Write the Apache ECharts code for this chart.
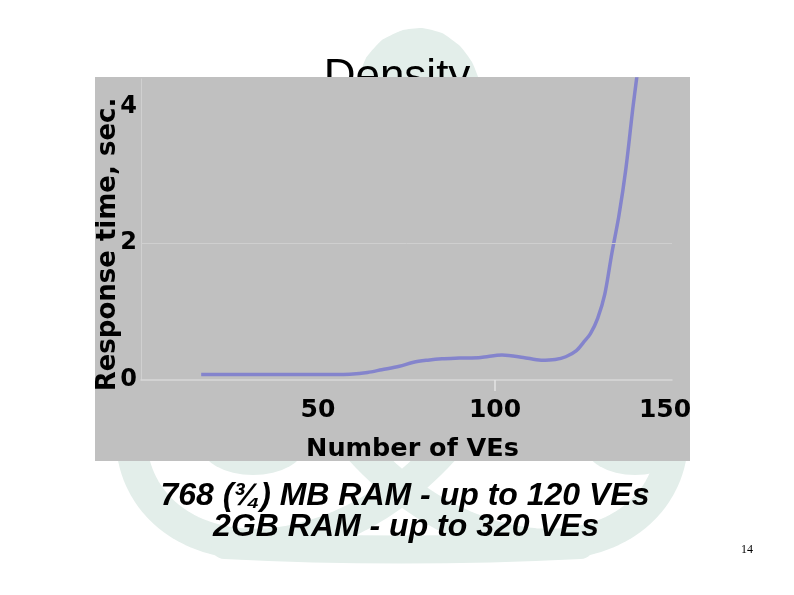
<!DOCTYPE html>
<html>
<head>
<meta charset="utf-8">
<style>
  html, body { margin: 0; padding: 0; background: #ffffff; }
  #chart { width: 794px; height: 595px; }
</style>
<script src="https://cdn.jsdelivr.net/npm/echarts@6/dist/echarts.min.js"></script>
</head>
<body>
<div id="chart"></div>
<script>
// ---- data ----
const veCounts = [17, 25, 35, 45, 55, 59, 64, 68, 73, 77, 81, 85, 90, 96, 102, 108, 113, 117, 120, 123, 125, 127, 129, 131, 133, 135, 137, 139, 141];
const responseTimes = [0.08, 0.08, 0.08, 0.08, 0.08, 0.085, 0.11, 0.15, 0.2, 0.26, 0.29, 0.31, 0.32, 0.33, 0.365, 0.33, 0.29, 0.3, 0.34, 0.43, 0.55, 0.68, 0.9, 1.25, 1.85, 2.4, 3.1, 4.0, 4.8];
const xTickLabels = [50, 100, 150];
const xTickMarks = [100];
const yTickLabels = [0, 2, 4];
const titleText = 'Density';
const xAxisTitle = 'Number of VEs';
const yAxisTitle = 'Response time, sec.';
const captionLines = ['768 (\u00BE) MB RAM - up to 120 VEs', '2GB RAM - up to 320 VEs'];
const pageNumber = '14';

// ---- decorative background logo (faint knot) ----
function trefoilPoints(cx, cy, s) {
  const pts = [];
  for (let i = 0; i <= 360; i++) {
    const t = i / 360 * Math.PI * 2;
    const x = Math.sin(t) + 2 * Math.sin(2 * t);
    const y = Math.cos(t) - 2 * Math.cos(2 * t);
    pts.push([cx + s * x, cy + s * y]);
  }
  return pts;
}
const logoColor = '#e3eeea';

const chart = echarts.init(document.getElementById('chart'), null, { renderer: 'canvas' });

const option = {
  backgroundColor: '#ffffff',
  animation: false,
  graphic: [
    {
      type: 'polyline', z: -30, silent: true,
      shape: { points: trefoilPoints(402, 340, 99) },
      style: { stroke: logoColor, lineWidth: 31, fill: null, lineJoin: 'round', lineCap: 'round' }
    },
    {
      type: 'bezierCurve', z: -30, silent: true,
      shape: { x1: 225, y1: 545, cpx1: 400, cpy1: 554, x2: 580, y2: 545 },
      style: { stroke: logoColor, lineWidth: 28, fill: null, lineCap: 'round' }
    },
    {
      type: 'circle', z: -30, silent: true,
      x: 253, y: 445, scaleX: 52 / 30, scaleY: 1,
      shape: { cx: 0, cy: 0, r: 30 },
      style: { fill: logoColor }
    },
    {
      type: 'circle', z: -30, silent: true,
      x: 635, y: 445, scaleX: 50 / 30, scaleY: 1,
      shape: { cx: 0, cy: 0, r: 30 },
      style: { fill: logoColor }
    },
    {
      type: 'rect', z: -26, silent: true,
      shape: { x: 0, y: 0, width: 794, height: 77 },
      style: { fill: '#ffffff' }
    },
    {
      type: 'polygon', z: -25, silent: true,
      shape: {
        points: [[356, 100], [358, 80], [366, 58], [382, 40], [403, 30], [422, 28], [442, 33], [460, 46], [472, 62], [479, 80], [480, 100]],
        smooth: 0.15
      },
      style: { fill: logoColor }
    },
    {
      type: 'text', z: -20, silent: true,
      style: { text: titleText, x: 397, y: 56, align: 'center', verticalAlign: 'top',
               font: '44px "Liberation Sans", Arial, sans-serif', fill: '#000000' }
    },
    {
      type: 'rect', z: -10, silent: true,
      shape: { x: 95, y: 77, width: 595, height: 384 },
      style: { fill: '#c0c0c0' }
    },
    {
      type: 'text', silent: true,
      style: { text: captionLines[0], x: 405, y: 480, align: 'center', verticalAlign: 'top',
               font: 'italic bold 32px "Liberation Sans", Arial, sans-serif', fill: '#000000' }
    },
    {
      type: 'text', silent: true,
      style: { text: captionLines[1], x: 406, y: 511, align: 'center', verticalAlign: 'top',
               font: 'italic bold 32px "Liberation Sans", Arial, sans-serif', fill: '#000000' }
    },
    {
      type: 'text', silent: true,
      style: { text: pageNumber, x: 741, y: 544, align: 'left', verticalAlign: 'top',
               font: '12px "Liberation Serif", "Times New Roman", serif', fill: '#000000' }
    }
  ],
  grid: { left: 141, right: 122, top: 79, bottom: 215, containLabel: false },
  xAxis: {
    type: 'value', min: 0, max: 150, interval: 50,
    name: xAxisTitle, nameLocation: 'middle', nameGap: 56, nameMoveOverlap: false,
    nameTextStyle: { fontFamily: 'DejaVu Sans', fontWeight: 'bold', fontSize: 25.5, color: '#000', padding: [0, 0, 0, 12] },
    axisLine: { show: true, lineStyle: { color: '#d8d8d8', width: 1.5 } },
    axisTick: { show: true, customValues: xTickMarks, length: 11, lineStyle: { color: '#e4e4e4', width: 1.5 } },
    splitLine: { show: false },
    axisLabel: {
      showMinLabel: false, margin: 18,
      fontFamily: 'DejaVu Sans', fontWeight: 'bold', fontSize: 25, color: '#000',
      formatter: v => {
        if (xTickLabels.indexOf(v) < 0) return '';
        return v === xTickLabels[xTickLabels.length - 1] ? '{last|' + v + '}' : String(v);
      },
      rich: {
        last: { fontFamily: 'DejaVu Sans', fontWeight: 'bold', fontSize: 25, color: '#000', padding: [0, 14, 0, 0] }
      }
    }
  },
  yAxis: {
    type: 'value', min: 0, max: 4.4, interval: 2,
    name: yAxisTitle, nameLocation: 'middle', nameGap: 20, nameMoveOverlap: false,
    nameTextStyle: { fontFamily: 'DejaVu Sans', fontWeight: 'bold', fontSize: 26, color: '#000', padding: [0, 30, 0, 0] },
    axisLine: { show: true, lineStyle: { color: '#d0d0d0', width: 1 } },
    axisTick: { show: false },
    splitLine: { show: false },
    axisLabel: {
      showMaxLabel: false, margin: 4,
      fontFamily: 'DejaVu Sans', fontWeight: 'bold', fontSize: 24, color: '#000',
      formatter: v => (yTickLabels.indexOf(v) >= 0 ? String(v) : '')
    }
  },
  series: [
    {
      type: 'line',
      data: veCounts.map((x, i) => [x, responseTimes[i]]),
      smooth: 0.3,
      showSymbol: false, symbol: 'none',
      lineStyle: { color: '#8484cc', width: 3.5 },
      clip: true,
      markLine: {
        silent: true, symbol: 'none', label: { show: false },
        lineStyle: { color: '#cfcfcf', width: 1, type: 'solid' },
        data: [{ yAxis: yTickLabels[1] }]
      },
      z: 3
    }
  ]
};

chart.setOption(option);
</script>
</body>
</html>
